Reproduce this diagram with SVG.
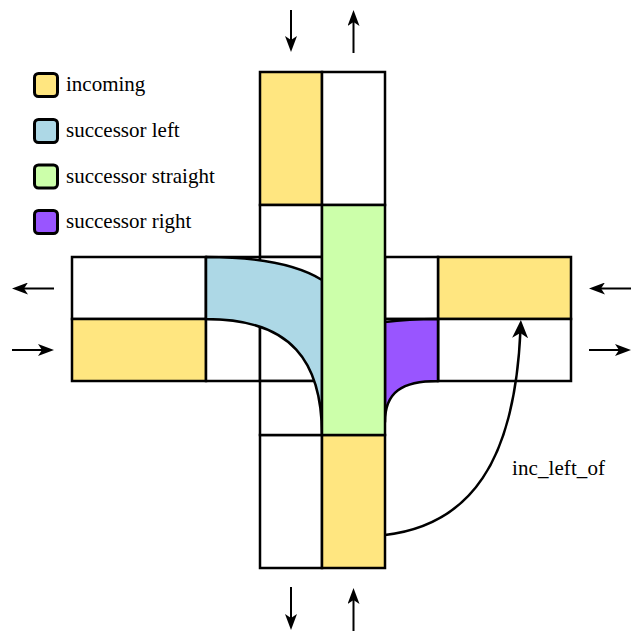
<svg xmlns="http://www.w3.org/2000/svg" width="637" height="631" viewBox="0 0 637 631">
  <style>
    .cell { fill: #ffffff; stroke: #000000; stroke-width: 2.5; }
    .inc { fill: #ffe680; }
    .left { fill: #add8e6; }
    .straight { fill: #ccffaa; }
    .right { fill: #9955ff; }
    .flow { stroke: #000000; stroke-width: 2.5; stroke-linejoin: round; }
    .key { stroke: #000000; stroke-width: 3; }
    .lbl { font-family: "Liberation Serif", "Times New Roman", serif; font-size: 21px; fill: #000000; }
    .dir { stroke: #000000; stroke-width: 2; fill: none; marker-end: url(#head); }
    .rel { stroke: #000000; stroke-width: 2.5; fill: none; marker-end: url(#bighead); }
  </style>
  <defs>
    <marker id="head" viewBox="0 0 16 12" refX="8" refY="6" markerWidth="16" markerHeight="12" markerUnits="userSpaceOnUse" orient="auto">
      <path d="M16,6 L0,0 L4,6 L0,12 Z" fill="#000000"/>
    </marker>
    <marker id="bighead" viewBox="0 0 18 16" refX="9" refY="8" markerWidth="18" markerHeight="16" markerUnits="userSpaceOnUse" orient="auto">
      <path d="M18,8 L0,0 L5,8 L0,16 Z" fill="#000000"/>
    </marker>
  </defs>

  <rect width="637" height="631" fill="#ffffff"/>

  <!-- legend -->
  <g id="legend">
    <g id="key-incoming">
      <rect class="key inc" x="34.5" y="73.5" width="23" height="23" rx="4"/>
      <text class="lbl" x="66" y="91">incoming</text>
    </g>
    <g id="key-left">
      <rect class="key left" x="34.5" y="119.5" width="23" height="23" rx="4"/>
      <text class="lbl" x="66" y="137">successor left</text>
    </g>
    <g id="key-straight">
      <rect class="key straight" x="34.5" y="165" width="23" height="23" rx="4"/>
      <text class="lbl" x="66" y="182.5">successor straight</text>
    </g>
    <g id="key-right">
      <rect class="key right" x="34.5" y="210.5" width="23" height="23" rx="4"/>
      <text class="lbl" x="66" y="228">successor right</text>
    </g>
  </g>

  <!-- north arm -->
  <g id="north">
    <rect class="cell inc" x="260" y="72" width="62" height="133"/>
    <rect class="cell" x="322" y="72" width="63" height="133"/>
  </g>

  <!-- south arm -->
  <g id="south">
    <rect class="cell" x="260" y="435" width="62" height="133"/>
    <rect class="cell inc" x="322" y="435" width="63" height="133"/>
  </g>

  <!-- west arm -->
  <g id="west">
    <rect class="cell" x="72" y="257" width="134" height="62"/>
    <rect class="cell inc" x="72" y="319" width="134" height="62"/>
  </g>

  <!-- east arm -->
  <g id="east">
    <rect class="cell inc" x="438" y="257" width="133" height="62"/>
    <rect class="cell" x="438" y="319" width="133" height="62"/>
  </g>

  <!-- junction cells -->
  <g id="junction">
    <rect class="cell" x="206" y="257" width="54" height="62"/>
    <rect class="cell" x="206" y="319" width="54" height="62"/>
    <rect class="cell" x="260" y="205" width="62" height="52"/>
    <rect class="cell" x="260" y="257" width="62" height="62"/>
    <rect class="cell" x="260" y="319" width="62" height="62"/>
    <rect class="cell" x="260" y="381" width="62" height="54"/>
    <rect class="cell" x="385" y="257" width="53" height="62"/>
    <rect class="cell" x="385" y="319" width="53" height="62"/>
  </g>

  <!-- successor lanes -->
  <g id="succ-left">
    <path class="flow left" d="M206,257 C258,257 296,264 322,280 L322,435 C322,362 292,319 206,319 Z"/>
  </g>
  <g id="succ-right">
    <path class="flow right" d="M385,322 Q408,319 438,319 L438,381 C402,381 385,392 385,422 Z"/>
  </g>
  <g id="succ-straight">
    <rect class="cell straight" x="322" y="205" width="63" height="230"/>
  </g>

  <!-- connectors -->
  <g id="connectors">
    <line class="dir" x1="291" y1="10" x2="291" y2="44"/>
    <line class="dir" x1="353.5" y1="53" x2="353.5" y2="18"/>
    <line class="dir" x1="291" y1="587" x2="291" y2="622"/>
    <line class="dir" x1="353.5" y1="631" x2="353.5" y2="596"/>
    <line class="dir" x1="54" y1="288.5" x2="20" y2="288.5"/>
    <line class="dir" x1="12" y1="350" x2="46" y2="350"/>
    <line class="dir" x1="631" y1="288.5" x2="597" y2="288.5"/>
    <line class="dir" x1="589" y1="350" x2="623" y2="350"/>
    <path class="rel" d="M385,535 C470,525 515,462 520.5,329"/>
    <text class="lbl" x="512" y="475" textLength="93" lengthAdjust="spacing">inc_left_of</text>
  </g>
</svg>
